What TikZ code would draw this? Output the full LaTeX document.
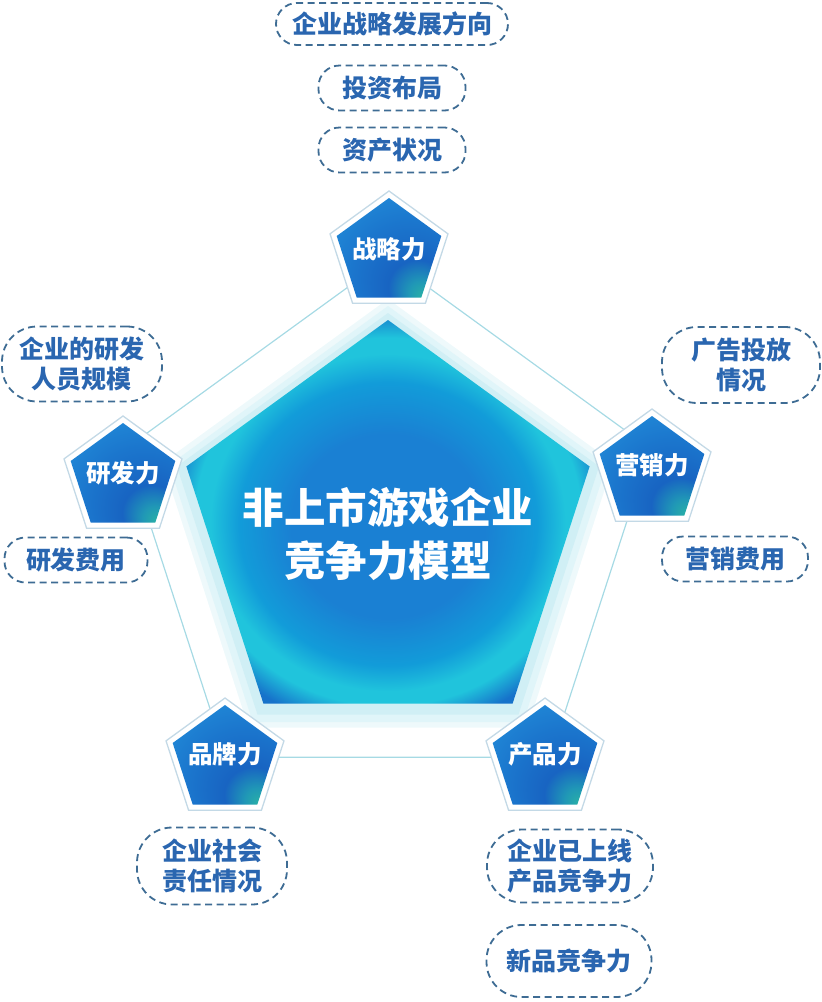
\documentclass[tikz,border=0pt]{standalone}
\usepackage{fontspec}
\newfontfamily\cjk{Noto Sans CJK SC}
\definecolor{lbltext}{HTML}{2A66B0}
\definecolor{lbldash}{HTML}{3E6C94}
\definecolor{thinline}{HTML}{A6DAE4}
\definecolor{haloA}{HTML}{EEF9FB}
\definecolor{haloB}{HTML}{E0F5F9}
\definecolor{haloC}{HTML}{D0EFF5}
\definecolor{spborder}{HTML}{C3D9E6}
\definecolor{cgA}{HTML}{1A80D3}
\definecolor{cgB}{HTML}{129CD9}
\definecolor{cgC}{HTML}{20C4DC}
\definecolor{cgE}{HTML}{1672CA}
\definecolor{spT}{HTML}{2AB3A4}
\definecolor{spU}{HTML}{2098B6}
\definecolor{spD}{HTML}{1864C2}
\definecolor{spB}{HTML}{1B76CD}
\definecolor{spL}{HTML}{218BD8}
\pgfdeclareradialshading{centralglow}{\pgfpoint{0bp}{-2.5bp}}{color(0bp)=(cgA); color(12bp)=(cgA); color(18.5bp)=(cgB); color(22bp)=(cgC); color(24bp)=(cgC); color(27.5bp)=(cgE); color(50bp)=(cgE)}
\pgfdeclareradialshading{smallglow}{\pgfpoint{17bp}{-25bp}}{color(0bp)=(spT); color(6bp)=(spU); color(14bp)=(spD); color(28bp)=(spB); color(42bp)=(spL); color(70bp)=(spL)}
\newcommand{\pentpath}[3]{(#1,#2) +(-90:#3) -- +(-18:#3) -- +(54:#3) -- +(126:#3) -- +(198:#3) -- cycle}
\newcommand{\smallpent}[2]{%
  \fill[white, draw=spborder, line width=1.3pt] \pentpath{#1}{#2}{62};
  \shade[shading=smallglow] \pentpath{#1}{#2}{55};
}
\tikzset{
  dlbl/.style={draw=lbldash, dash pattern=on 7pt off 4.5pt, line width=1.8pt,
    text=lbltext, font=\cjk\bfseries\fontsize{25}{30}\selectfont, align=center,
    inner sep=0pt, rounded corners=21pt, minimum height=45pt},
  dlbltwo/.style={dlbl, rounded corners=35pt},
  pentlabel/.style={text=white, font=\cjk\bfseries\fontsize{24.5}{28}\selectfont, inner sep=0pt},
  titletext/.style={text=white, font=\cjk\bfseries\fontsize{41.5}{53}\selectfont, align=center, inner sep=0pt},
  thin/.style={draw=thinline, line width=1.2pt}
}
\begin{document}
\begin{tikzpicture}[x=1pt, y=-1pt]
\useasboundingbox (0,0) rectangle (822,1002);
% thin outer pentagon
\coordinate (t1) at (388,258);
\coordinate (t2) at (650.5,448.7);
\coordinate (t3) at (550.2,757.3);
\coordinate (t4) at (225.8,757.3);
\coordinate (t5) at (125.5,448.7);
\draw[thin] (t1) -- (t2) -- (t3) -- (t4) -- (t5) -- cycle;
% halo
\fill[haloA] \pentpath{388}{536}{237};
\fill[haloB] \pentpath{388}{536}{230};
\fill[haloC] \pentpath{388}{535}{222};
% central pentagon
\shade[shading=centralglow] \pentpath{388}{532}{212};
\node[titletext] (title) at (388,534) {非上市游戏企业\\竞争力模型};
% small pentagons
\smallpent{389}{253}
\smallpent{123}{478}
\smallpent{652}{471}
\smallpent{225}{760}
\smallpent{545}{760}
\node[pentlabel] (p1) at (389,249) {战略力};
\node[pentlabel] (p2) at (123,473) {研发力};
\node[pentlabel] (p3) at (652,465) {营销力};
\node[pentlabel] (p4) at (225,754) {品牌力};
\node[pentlabel] (p5) at (545,754) {产品力};
% dashed labels
\node[dlbl, minimum width=232pt, minimum height=42pt] (l1) at (392,24) {企业战略发展方向};
\node[dlbl, minimum width=147pt] (l2) at (392,88) {投资布局};
\node[dlbl, minimum width=147pt] (l3) at (392,150) {资产状况};
\node[dlbltwo, minimum width=158pt, minimum height=76pt] (l4) at (741,365) {广告投放\\情况};
\node[dlbl, minimum width=146pt] (l5) at (735,559) {营销费用};
\node[dlbltwo, minimum width=160pt, minimum height=75pt] (l6) at (82,364) {企业的研发\\人员规模};
\node[dlbl, minimum width=143pt] (l7) at (76,560) {研发费用};
\node[dlbltwo, minimum width=150pt, minimum height=77pt] (l8) at (212,866) {企业社会\\责任情况};
\node[dlbltwo, minimum width=166pt, minimum height=73pt] (l9) at (570,866) {企业已上线\\产品竞争力};
\node[dlbltwo, minimum width=165pt, minimum height=72pt] (l10) at (569,961) {新品竞争力};
\end{tikzpicture}
\end{document}
